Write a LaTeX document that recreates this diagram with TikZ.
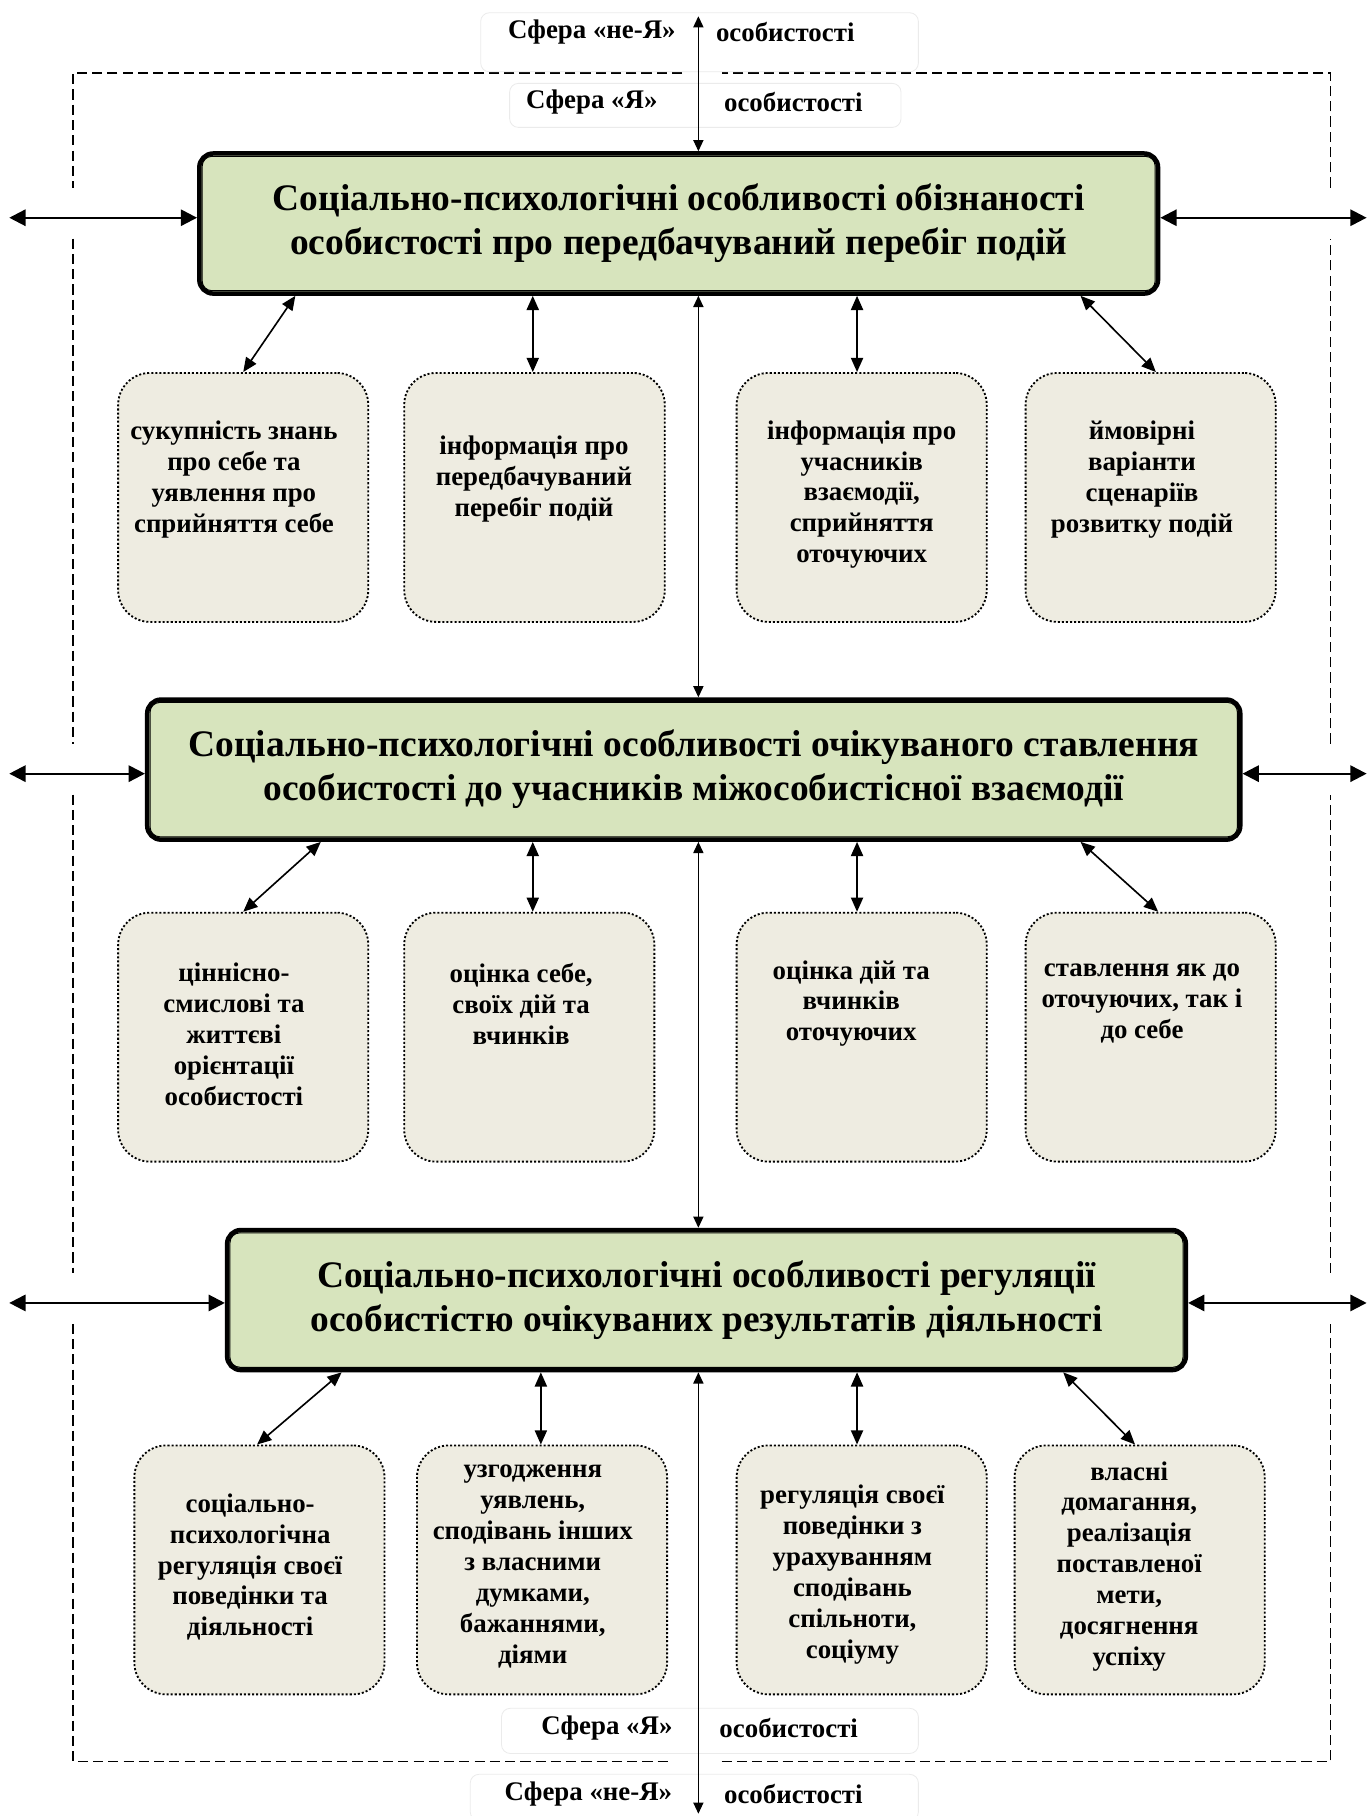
\documentclass[tikz,border=0pt]{standalone}
\usepackage{fontspec}
\setmainfont{Liberation Serif}
\usetikzlibrary{arrows.meta,calc}
\definecolor{mainfill}{HTML}{D7E4BD}
\definecolor{smallfill}{HTML}{EEECE1}
\begin{document}
\begin{tikzpicture}[x=0.02cm,y=-0.02cm]
        % Styles
        \tikzstyle{frame}=[line width=0.6pt,dash pattern=on 5pt off 2.5pt]
        \tikzstyle{main box}=[draw,line width=2.2pt,rounded corners=0.24cm,fill=mainfill,minimum width=16.56cm,minimum height=2.42cm,align=center,font=\fontsize{18.4}{21.6}\selectfont\bfseries]
        \tikzstyle{small box}=[draw,line width=0.9pt,dash pattern=on 1pt off 1pt,rounded corners=0.55cm,fill=smallfill,minimum width=4.32cm,minimum height=4.3cm]
        \tikzstyle{small text}=[align=center,inner sep=0pt,font=\fontsize{13.2}{15.2}\selectfont\bfseries]
        \tikzstyle{sphere box}=[draw=black!8,fill=white,rounded corners=0.15cm]
        \tikzstyle{sphere text}=[inner sep=0pt,font=\fontsize{13.2}{15}\selectfont\bfseries]
        \tikzstyle{side arrow}=[line width=1.1pt,{Triangle[length=8pt,width=8pt]}-{Triangle[length=8pt,width=8pt]}]
        \tikzstyle{link}=[line width=0.8pt,{Triangle[length=7pt,width=6pt]}-{Triangle[length=7pt,width=6pt]}]
        \tikzstyle{mid link}=[line width=0.6pt,{Triangle[length=5.5pt,width=5pt]}-{Triangle[length=5.5pt,width=5pt]}]
        \useasboundingbox (0,0) rectangle (1183,1568);
        %The graphic
        %frame of the sphere
        \draw[frame] (589,63) -- (63,63) -- (63,162);
        \draw[frame] (63,206) -- (63,642);
        \draw[frame] (63,686) -- (63,1099);
        \draw[frame] (63,1143) -- (63,1521) -- (578,1521);
        \draw[frame] (623,1521) -- (1149,1521) -- (1149,1143);
        \draw[frame] (1149,1099) -- (1149,686);
        \draw[frame] (1149,642) -- (1149,206);
        \draw[frame] (1149,162) -- (1149,63) -- (623,63);
        %sphere labels
        \node[sphere box,minimum width=7.56cm,minimum height=1.02cm] (N1) at (604,36.5) {};
        \node[sphere text] (N1a) at (511,28) {Сфера «не-Я»};
        \node[sphere text] (N1b) at (678,28) {особистості};
        \node[sphere box,minimum width=6.76cm,minimum height=0.76cm] (Y1) at (609,91) {};
        \node[sphere text] (Y1a) at (511,88) {Сфера «Я»};
        \node[sphere text] (Y1b) at (685,88) {особистості};
        \node[sphere box,minimum width=7.2cm,minimum height=0.78cm] (Y2) at (613,1494.5) {};
        \node[sphere text] (Y2a) at (524,1492) {Сфера «Я»};
        \node[sphere text] (Y2b) at (681,1492) {особистості};
        \node[sphere box,minimum width=7.74cm,minimum height=0.8cm] (N2) at (599.5,1552) {};
        \node[sphere text] (N2a) at (508,1549) {Сфера «не-Я»};
        \node[sphere text] (N2b) at (685,1549) {особистості};
        %main boxes
        \node[main box] (B1) at (586,193) {Соціально-психологічні особливості обізнаності\\особистості про передбачуваний перебіг подій};
        \node[main box,minimum width=18.88cm] (B2) at (599,664.5) {Соціально-психологічні особливості очікуваного ставлення\\особистості до учасників міжособистісної взаємодії};
        \node[main box] (B3) at (610,1122.5) {Соціально-психологічні особливості регуляції\\особистістю очікуваних результатів діяльності};
        \foreach \b in {B1,B2,B3}
            \draw[line width=0.5pt,rounded corners=0.17cm] ([shift={(2.5pt,-2.5pt)}]\b.north west) rectangle ([shift={(-2.5pt,2.5pt)}]\b.south east);
        %small boxes
        \node[small box] (S11) at (210,429.5) {};
        \node[small box,minimum width=4.5cm] (S12) at (461.5,429.5) {};
        \node[small box] (S13) at (744,429.5) {};
        \node[small box] (S14) at (993.5,429.5) {};
        \node[small box] (S21) at (210,895.5) {};
        \node[small box] (S22) at (457,895.5) {};
        \node[small box] (S23) at (744,895.5) {};
        \node[small box] (S24) at (993.5,895.5) {};
        \node[small box] (S31) at (224,1355.5) {};
        \node[small box] (S32) at (468,1355.5) {};
        \node[small box] (S33) at (744,1355.5) {};
        \node[small box] (S34) at (984,1355.5) {};
        %texts
        \node[small text] (T11) at (202,414) {сукупність знань\\про себе та\\уявлення про\\сприйняття себе};
        \node[small text] (T12) at (461,413.5) {інформація про\\передбачуваний\\перебіг подій};
        \node[small text] (T13) at (744,427) {інформація про\\учасників\\взаємодії,\\сприйняття\\оточуючих};
        \node[small text] (T14) at (986,414) {ймовірні\\варіанти\\сценаріїв\\розвитку подій};
        \node[small text] (T21) at (202,893) {ціннісно-\\смислові та\\життєві\\орієнтації\\особистості};
        \node[small text] (T22) at (450,866.5) {оцінка себе,\\своїх дій та\\вчинків};
        \node[small text] (T23) at (735,866.5) {оцінка дій та\\вчинків\\оточуючих};
        \node[small text] (T24) at (986,866.5) {ставлення як до\\оточуючих, так і\\до себе};
        \node[small text] (T31) at (216,1353) {соціально-\\психологічна\\регуляція своєї\\поведінки та\\діяльності};
        \node[small text] (T32) at (460,1352.5) {узгодження\\уявлень,\\сподівань інших\\з власними\\думками,\\бажаннями,\\діями};
        \node[small text] (T33) at (736,1359.5) {регуляція своєї\\поведінки з\\урахуванням\\сподівань\\спільноти,\\соціуму};
        \node[small text] (T34) at (975,1352.5) {власні\\домагання,\\реалізація\\поставленої\\мети,\\досягнення\\успіху};
        %links to small boxes
        \foreach \r/\i/\bs/\ss in {1/1/-331/0,1/2/-126/-1.5,1/3/154/-4,1/4/347/4.5,
                                    2/1/-322/0,2/2/-139/3,2/3/141/-4,2/4/334/6.5,
                                    3/1/-315/-2,3/2/-143/-1,3/3/130/-4,3/4/308/-4}
            \draw[link] ($(B\r.south)+(\bs,0)$) -- ($(S\r\i.north)+(\ss,0)$);
        %arrows to the outer sphere
        \foreach \b/\y in {B1/188,B2/668,B3/1125}
        {
            \coordinate (L) at (8,\y);
            \coordinate (R) at (1180,\y);
            \draw[side arrow] (L) -- (L -| \b.west);
            \draw[side arrow] (\b.east |- R) -- (R);
        }
        %middle axis
        \coordinate (top) at (603,14);
        \coordinate (bottom) at (603,1566);
        \draw[mid link] (top) -- (top |- B1.north);
        \draw[mid link] (B1.south -| top) -- (B2.north -| top);
        \draw[mid link] (B2.south -| top) -- (B3.north -| top);
        \draw[mid link] (B3.south -| top) -- (bottom);
\end{tikzpicture}
\end{document}
